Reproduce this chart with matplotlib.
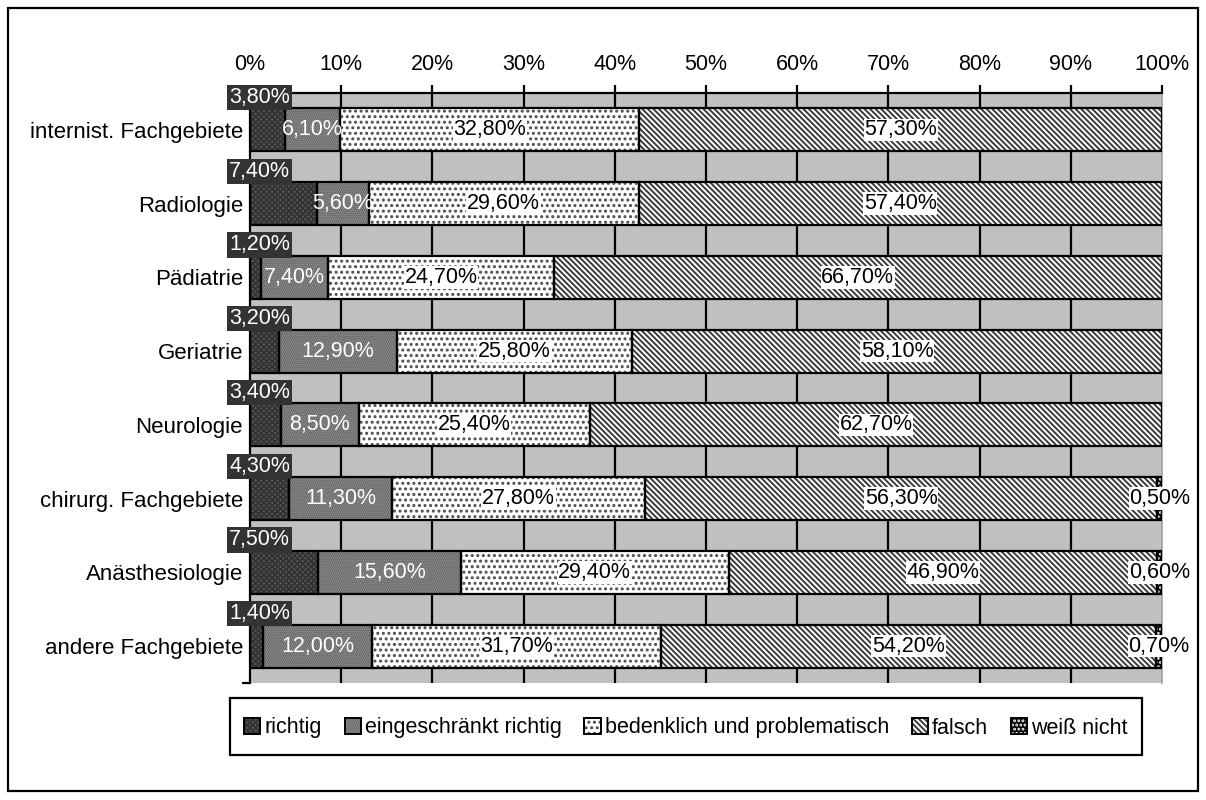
import numpy as np
import matplotlib
matplotlib.use("Agg")
import matplotlib.pyplot as plt
from matplotlib.patches import Rectangle
from matplotlib.legend_handler import HandlerTuple

plt.rcParams['font.family'] = ['Liberation Sans', 'DejaVu Sans']
plt.rcParams['hatch.linewidth'] = 1.4

categories = ["internist. Fachgebiete", "Radiologie", "Pädiatrie", "Geriatrie",
              "Neurologie", "chirurg. Fachgebiete", "Anästhesiologie", "andere Fachgebiete"]
series_names = ["richtig", "eingeschränkt richtig", "bedenklich und problematisch",
                "falsch", "weiß nicht"]
richtig = [3.8, 7.4, 1.2, 3.2, 3.4, 4.3, 7.5, 1.4]
eingeschraenkt = [6.1, 5.6, 7.4, 12.9, 8.5, 11.3, 15.6, 12.0]
bedenklich = [32.8, 29.6, 24.7, 25.8, 25.4, 27.8, 29.4, 31.7]
falsch = [57.3, 57.4, 66.7, 58.1, 62.7, 56.3, 46.9, 54.2]
weiss_nicht = [0.0, 0.0, 0.0, 0.0, 0.0, 0.5, 0.6, 0.7]
xticklabels = ["0%", "10%", "20%", "30%", "40%", "50%", "60%", "70%", "80%", "90%", "100%"]

values = np.array([richtig, eingeschraenkt, bedenklich, falsch, weiss_nicht])
shares = values / values.sum(axis=0) * 100  # 100% stacked

# face colour, hatch, hatch colour
styles = [("#5a5a5a", "xxxxxx", "#333333"),
          ("#969696", "........", "#6a6a6a"),
          ("white", "...", "#4a4a4a"),
          ("white", "\\\\\\\\\\\\", "#3a3a3a"),
          ("black", "....", "white")]

fig = plt.figure(figsize=(12.06, 8), dpi=100)
ax = fig.add_axes([250 / 1206, 1 - 683 / 800, 912 / 1206, 590 / 800])
ax.set_facecolor("#c0c0c0")

y = np.arange(len(categories))
h = 0.58
left = np.zeros(len(categories))
handles = []
for k, name in enumerate(series_names):
    fc, hatch, hc = styles[k]
    w = shares[k]
    mask = values[k] > 0
    fill = ax.barh(y[mask], w[mask], left=left[mask], height=h, color=fc,
                   hatch=hatch, edgecolor=hc, linewidth=0, zorder=2)
    ax.barh(y[mask], w[mask], left=left[mask], height=h, fill=False,
            edgecolor="black", linewidth=1.6, zorder=3)
    outline = Rectangle((0, 0), 1, 1, fill=False, edgecolor="black", linewidth=1.4)
    handles.append((fill.patches[0], outline))

    for i in np.where(mask)[0]:
        txt = f"{values[k][i]:.2f}".replace(".", ",") + "%"
        cx = left[i] + w[i] / 2
        if k == 0:
            ax.text(4.4, i - 0.44, txt, ha="right", va="center", color="white",
                    fontsize=15.5, zorder=6, clip_on=False,
                    bbox=dict(boxstyle="square,pad=0.1", fc="#333333", ec="none"))
        elif k == 1:
            ax.text(cx, i, txt, ha="center", va="center", color="white",
                    fontsize=15.5, zorder=6)
        else:
            ax.text(cx, i, txt, ha="center", va="center", color="black",
                    fontsize=15.5, zorder=6, clip_on=False,
                    bbox=dict(boxstyle="square,pad=0.03", fc="white", ec="none"))
    left = left + w

ax.set_xlim(0, 100)
ax.set_ylim(len(categories) - 0.5, -0.5)

# grid
for gx in range(10, 100, 10):
    ax.axvline(gx, color="black", linewidth=1.6, zorder=1)

ax.xaxis.tick_top()
ax.set_xticks(np.arange(0, 101, 10))
ax.set_xticklabels(xticklabels, fontsize=15.5)
ax.tick_params(axis="x", direction="out", length=6, width=1.6, pad=7)

ax.set_yticks(y)
ax.set_yticklabels(categories, fontsize=16)
ax.set_yticks(np.arange(0.5, len(categories), 1), minor=True)
ax.tick_params(axis="y", which="major", length=0, pad=5)
ax.tick_params(axis="y", which="minor", direction="out", length=6, width=1.6)

ax.spines["bottom"].set_visible(False)
ax.spines["right"].set_color("#a0a0a0")
ax.spines["right"].set_linewidth(1.2)
ax.spines["top"].set_linewidth(1.6)
ax.spines["left"].set_linewidth(1.6)

# legend frame and legend
fig.patches.append(Rectangle((230 / 1206, 1 - 755 / 800), 912 / 1206, 57 / 800,
                             transform=fig.transFigure, fill=False,
                             edgecolor="black", linewidth=1.6))
fig.legend(handles, series_names, loc="center", ncol=5,
           bbox_to_anchor=(686 / 1206, 1 - 728 / 800), frameon=False,
           fontsize=15.5, handlelength=0.75, handleheight=0.75, handletextpad=0.2,
           columnspacing=1.05, handler_map={tuple: HandlerTuple(ndivide=1)})

# outer frame
fig.patches.append(Rectangle((8 / 1206, 1 - 791 / 800), 1190 / 1206, 783 / 800,
                             transform=fig.transFigure, fill=False,
                             edgecolor="black", linewidth=1.6))

fig.savefig("out.png", dpi=100)
